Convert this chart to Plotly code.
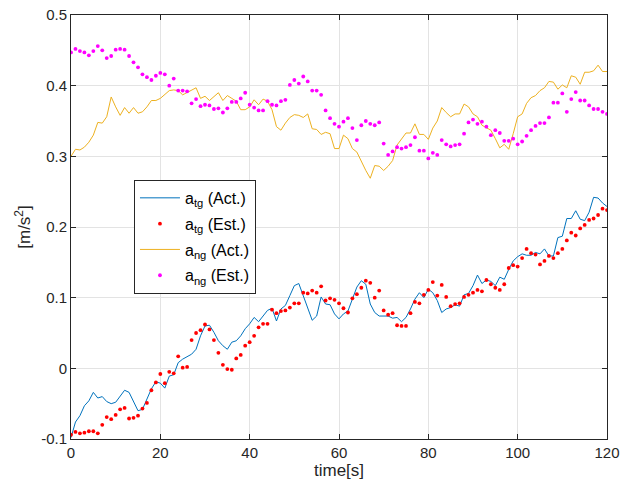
import plotly.graph_objects as go

time_s = list(range(0, 121))

tg_act = [-0.098,-0.076,-0.067,-0.053,-0.046,-0.034,-0.042,-0.040,-0.047,-0.050,
          -0.048,-0.039,-0.031,-0.034,-0.048,-0.060,-0.058,-0.043,-0.029,-0.019,
          -0.021,-0.028,-0.011,-0.009,0.008,0.013,0.016,0.020,0.027,0.046,
          0.060,0.061,0.051,0.039,0.032,0.027,0.037,0.039,0.046,0.056,
          0.063,0.072,0.066,0.074,0.082,0.085,0.067,0.084,0.089,0.103,
          0.117,0.120,0.103,0.084,0.068,0.074,0.101,0.091,0.090,0.077,
          0.070,0.077,0.081,0.098,0.115,0.124,0.119,0.091,0.079,0.074,
          0.074,0.074,0.071,0.072,0.066,0.072,0.084,0.098,0.107,0.100,
          0.112,0.107,0.096,0.079,0.084,0.086,
          0.090,0.088,0.104,0.106,0.117,0.132,0.120,0.125,0.123,0.117,
          0.129,0.126,0.140,0.152,0.158,0.162,0.160,0.160,0.164,0.162,
          0.169,0.159,0.159,0.185,0.187,0.212,0.212,0.223,0.211,0.209,
          0.221,0.242,0.241,0.234,0.229]

tg_est = [-0.094,-0.090,-0.092,-0.091,-0.089,-0.089,-0.092,-0.080,-0.069,-0.072,
          -0.066,-0.058,-0.056,-0.071,-0.070,-0.067,-0.057,-0.049,-0.031,-0.020,
          -0.008,-0.021,-0.005,-0.007,0.017,0.001,0.002,0.040,0.050,0.054,
          0.062,0.055,0.040,0.022,0.005,-0.001,-0.002,0.014,0.019,0.032,
          0.037,0.046,0.058,
          0.063,0.063,0.083,0.078,0.081,0.082,0.086,0.092,0.092,0.107,
          0.106,0.110,0.107,0.116,0.096,0.099,0.097,0.092,0.085,0.079,
          0.099,0.105,0.114,0.124,0.121,0.100,0.110,0.082,0.076,0.078,
          0.061,0.060,0.060,0.078,0.094,0.092,0.104,0.111,0.122,0.103,
          0.118,0.101,0.088,
          0.091,0.092,0.101,0.104,0.107,0.111,0.109,0.125,0.119,0.114,
          0.111,0.119,0.142,0.146,0.144,0.156,0.169,0.163,0.161,0.147,
          0.152,0.159,0.156,0.163,0.169,0.181,0.192,0.188,0.198,0.203,
          0.210,0.212,0.217,0.226,0.224]

ng_act = [0.300,0.310,0.309,0.313,0.320,0.330,0.348,0.347,0.356,0.384,
          0.370,0.358,0.369,0.361,0.369,0.361,0.363,0.370,0.379,0.379,
          0.382,0.387,0.393,0.394,0.393,0.387,0.390,0.394,0.397,0.382,
          0.385,0.379,0.384,0.390,0.379,0.386,0.382,0.378,0.366,0.366,
          0.370,0.380,0.373,0.381,0.378,0.366,0.342,0.337,0.347,0.355,
          0.359,0.358,0.355,0.360,0.339,0.338,0.331,0.334,0.332,0.311,
          0.311,0.330,0.325,0.311,0.306,0.292,0.280,0.269,0.287,0.286,
          0.280,0.286,0.294,0.316,0.325,0.333,0.333,0.346,0.331,0.331,
          0.324,0.340,0.350,0.369,0.362,0.356,
          0.360,0.360,0.374,0.370,0.360,0.356,0.344,0.341,0.337,0.325,
          0.312,0.317,0.310,0.332,0.356,0.360,0.375,0.383,0.386,0.393,
          0.397,0.406,0.405,0.395,0.401,0.397,0.414,0.412,0.402,0.419,
          0.419,0.421,0.429,0.420,0.420]

ng_est = [0.447,0.452,0.449,0.447,0.443,0.449,0.456,0.450,0.439,0.442,
          0.451,0.452,0.451,0.442,0.433,0.426,0.416,0.412,0.408,0.414,
          0.418,0.416,0.400,0.410,0.393,0.393,0.392,0.375,0.381,0.371,
          0.373,0.372,0.367,0.368,0.362,0.368,0.377,0.377,0.382,0.390,
          0.373,0.369,0.365,
          0.365,0.378,0.373,0.372,0.378,0.380,0.401,0.408,0.403,0.413,
          0.406,0.393,0.393,0.387,0.365,0.354,0.346,0.342,0.349,0.354,
          0.340,0.323,0.344,0.350,0.346,0.344,0.348,0.318,0.302,0.307,
          0.313,0.311,0.313,0.316,0.327,0.308,0.308,0.297,0.305,0.302,
          0.323,0.317,0.314,
          0.316,0.317,0.332,0.348,0.352,0.346,0.349,0.342,0.330,0.337,
          0.333,0.322,0.322,0.325,0.317,0.321,0.329,0.337,0.343,0.347,
          0.347,0.355,0.376,0.376,0.389,0.363,0.381,0.391,0.379,0.379,
          0.372,0.367,0.367,0.363,0.360]

x_ticks = [0, 20, 40, 60, 80, 100, 120]
y_ticks = [-0.1, 0, 0.1, 0.2, 0.3, 0.4, 0.5]
y_tick_text = ["-0.1", "0", "0.1", "0.2", "0.3", "0.4", "0.5"]

names = ["a<sub>tg</sub> (Act.)", "a<sub>tg</sub> (Est.)",
         "a<sub>ng</sub> (Act.)", "a<sub>ng</sub> (Est.)"]

FONT = "Liberation Sans, Arial, sans-serif"
AX = "#262626"

fig = go.Figure()
fig.add_trace(go.Scatter(x=time_s, y=tg_act, mode="lines", name=names[0], legendgroup="g1",
                         line=dict(color="#0072BD", width=1)))
fig.add_trace(go.Scatter(x=time_s, y=tg_est, mode="markers", name=names[1], legendgroup="g2",
                         marker=dict(color="#FF0000", size=3.8)))
fig.add_trace(go.Scatter(x=time_s, y=ng_act, mode="lines", name=names[2], legendgroup="g3",
                         line=dict(color="#EDB120", width=1)))
fig.add_trace(go.Scatter(x=time_s, y=ng_est, mode="markers", name=names[3], legendgroup="g4",
                         marker=dict(color="#FF00FF", size=3.8)))

axis_common = dict(showline=True, linecolor=AX, linewidth=1, mirror="ticks",
                   ticks="inside", ticklen=5, tickcolor=AX, tickwidth=1,
                   showgrid=True, gridcolor="#e3e3e3", gridwidth=1,
                   zeroline=False, automargin=False,
                   tickfont=dict(family=FONT, size=15, color=AX))

fig.update_layout(
    width=621, height=491,
    margin=dict(l=71, r=14, t=15, b=52),
    paper_bgcolor="white", plot_bgcolor="white",
    font=dict(family=FONT, color=AX),
    showlegend=True,
    legend=dict(x=0.1175, y=0.611, xanchor="left", yanchor="top",
                bgcolor="white", bordercolor=AX, borderwidth=1,
                font=dict(family=FONT, size=16, color="black"),
                tracegroupgap=2, itemwidth=40),
    xaxis=dict(range=[0, 120], tickvals=x_ticks,
               title=dict(text="time[s]", font=dict(family=FONT, size=17, color=AX),
                          standoff=2),
               **axis_common),
    yaxis=dict(range=[-0.1, 0.5], tickvals=y_ticks, ticktext=y_tick_text,
               title=dict(text="[m/s<sup>2</sup>]", font=dict(family=FONT, size=17, color=AX),
                          standoff=6),
               **axis_common),
)

fig.write_html("out.html")
